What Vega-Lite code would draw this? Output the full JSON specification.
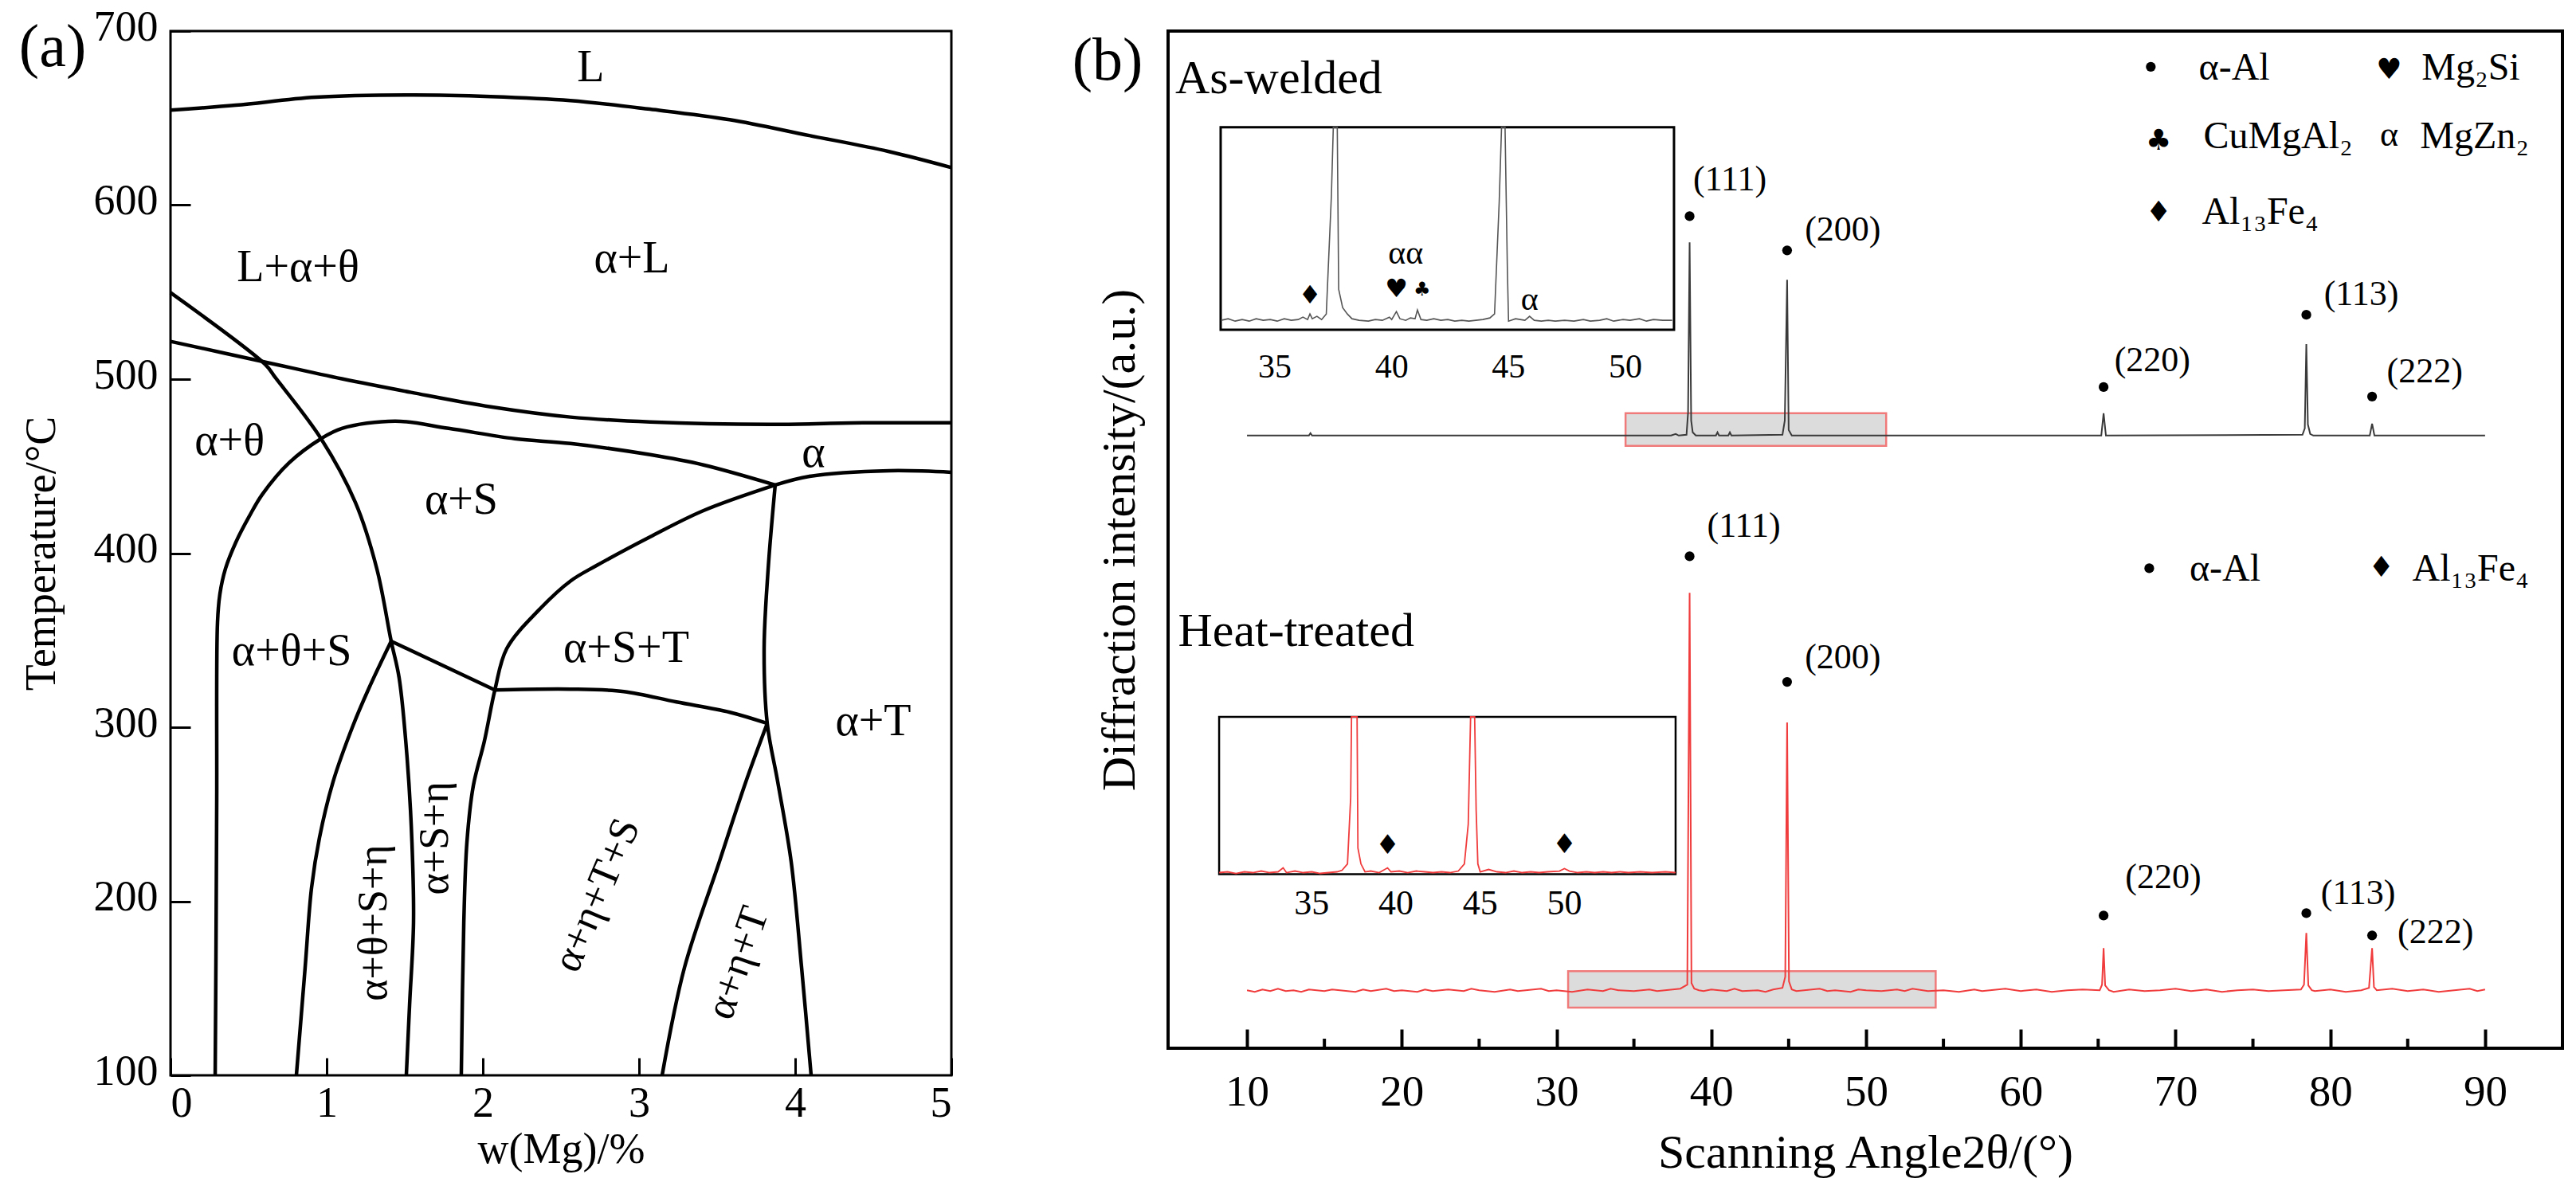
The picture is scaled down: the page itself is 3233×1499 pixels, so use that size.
{
"$schema":"https://vega.github.io/schema/vega-lite/v6.json",
"background":"white",
"padding":{"left":22,"top":5,"right":5,"bottom":5},
"spacing":138,
"config":{"font":"Liberation Serif, Times New Roman, serif","view":{"stroke":null},
 "axis":{"labelFont":"Liberation Serif, Times New Roman, serif","titleFont":"Liberation Serif, Times New Roman, serif","labelColor":"black","titleColor":"black","tickColor":"black","grid":false,"titleFontWeight":"normal"},
 "text":{"font":"Liberation Serif, Times New Roman, serif","color":"black"}},
"datasets":{
"curves":[
{"c":"A","x":0,"t":654.6},{"c":"A","x":0.418,"t":657.4},{"c":"A","x":0.929,"t":662},{"c":"A","x":1.54,"t":663.3},{"c":"A","x":2.05,"t":662.4},{"c":"A","x":2.56,"t":660.1},{"c":"A","x":3.07,"t":655.1},{"c":"A","x":3.58,"t":649.1},{"c":"A","x":4.09,"t":640},{"c":"A","x":4.6,"t":630.8},{"c":"A","x":5,"t":621.6},
{"c":"B","x":0,"t":521.7},{"c":"B","x":0.587,"t":510.2},{"c":"B","x":1.097,"t":500.2},{"c":"B","x":1.541,"t":492.4},{"c":"B","x":2.051,"t":484.1},{"c":"B","x":2.561,"t":478.2},{"c":"B","x":3.071,"t":475.4},{"c":"B","x":3.837,"t":474},{"c":"B","x":4.434,"t":474.9},{"c":"B","x":5,"t":474.9},
{"c":"C","x":0,"t":549.7},{"c":"C","x":0.607,"t":508.4},{"c":"C","x":0.673,"t":500.7},{"c":"C","x":0.964,"t":465.8},{"c":"C","x":1.184,"t":429.1},{"c":"C","x":1.321,"t":391.1},{"c":"C","x":1.413,"t":349.4},{"c":"C","x":1.464,"t":328.3},{"c":"C","x":1.515,"t":282.4},{"c":"C","x":1.546,"t":233.8},{"c":"C","x":1.556,"t":187.6},{"c":"C","x":1.531,"t":140.8},{"c":"C","x":1.51,"t":100},
{"c":"D","x":0.286,"t":100},{"c":"D","x":0.291,"t":167.8},{"c":"D","x":0.296,"t":259.5},{"c":"D","x":0.301,"t":360.4},{"c":"D","x":0.316,"t":376.4},{"c":"D","x":0.352,"t":391.1},{"c":"D","x":0.418,"t":406.2},{"c":"D","x":0.505,"t":421.3},{"c":"D","x":0.587,"t":433.7},{"c":"D","x":0.76,"t":452},{"c":"D","x":0.964,"t":465.8},{"c":"D","x":1.097,"t":471.7},{"c":"D","x":1.439,"t":475.9},{"c":"D","x":1.781,"t":471.7},{"c":"D","x":2.204,"t":465.8},{"c":"D","x":2.561,"t":463},{"c":"D","x":3.071,"t":456.6},{"c":"D","x":3.413,"t":450.7},{"c":"D","x":3.872,"t":439.2},
{"c":"E","x":3.872,"t":439.2},{"c":"E","x":4.092,"t":444.2},{"c":"E","x":4.602,"t":447.4},{"c":"E","x":5,"t":446.5},
{"c":"F","x":3.872,"t":439.2},{"c":"F","x":3.827,"t":391.1},{"c":"F","x":3.801,"t":345.2},{"c":"F","x":3.821,"t":302.2},{"c":"F","x":3.888,"t":268.7},{"c":"F","x":3.974,"t":222.9},{"c":"F","x":4.041,"t":161.9},{"c":"F","x":4.102,"t":100},
{"c":"G","x":3.872,"t":439.2},{"c":"G","x":3.413,"t":424.5},{"c":"G","x":3.071,"t":409.4},{"c":"G","x":2.73,"t":393},{"c":"G","x":2.561,"t":384},{"c":"G","x":2.357,"t":367.2},{"c":"G","x":2.153,"t":345.2},{"c":"G","x":2.077,"t":321.4},{"c":"G","x":2.01,"t":292.1},{"c":"G","x":1.939,"t":266.4},{"c":"G","x":1.898,"t":233.9},{"c":"G","x":1.878,"t":187.6},{"c":"G","x":1.862,"t":100},
{"c":"H","x":1.413,"t":349.4},{"c":"H","x":2.077,"t":321.4},
{"c":"I","x":2.077,"t":321.4},{"c":"I","x":2.561,"t":321.9},{"c":"I","x":2.903,"t":320.5},{"c":"I","x":3.24,"t":314.5},{"c":"I","x":3.582,"t":308.6},{"c":"I","x":3.821,"t":302.2},
{"c":"J","x":1.413,"t":349.4},{"c":"J","x":1.27,"t":322.3},{"c":"J","x":1.168,"t":300.8},{"c":"J","x":1.041,"t":268.7},{"c":"J","x":0.954,"t":236.6},{"c":"J","x":0.903,"t":207.7},{"c":"J","x":0.862,"t":161.9},{"c":"J","x":0.806,"t":100},
{"c":"K","x":3.821,"t":302.2},{"c":"K","x":3.684,"t":268.7},{"c":"K","x":3.515,"t":222.9},{"c":"K","x":3.291,"t":161.9},{"c":"K","x":3.148,"t":100}
],
"ph_h":[{"txt":"L","x":2.69,"t":678.9},{"txt":"α+L","x":2.954,"t":568.9},{"txt":"L+α+θ","x":0.816,"t":564.3},{"txt":"α+θ","x":0.378,"t":464.4},{"txt":"α+S","x":1.862,"t":430.5},{"txt":"α","x":4.117,"t":457.5},{"txt":"α+θ+S","x":0.776,"t":343.4},{"txt":"α+S+T","x":2.918,"t":345.2},{"txt":"α+T","x":4.5,"t":303.1}],
"ph_v":[{"txt":"α+θ+S+η","x":1.301,"t":187.6},{"txt":"α+S+η","x":1.694,"t":236.2}],
"ph_s1":[{"txt":"α+η+T+S","x":2.73,"t":203.6}],
"ph_s2":[{"txt":"α+η+T","x":3.633,"t":164.6}],
"tagA":[{"txt":"(a)","x":-0.755,"t":690.4}],
"tagB":[{"txt":"(b)","a":0.99,"v":1242}],
"samples":[{"txt":"As-welded","a":5.36,"v":1202},{"txt":"Heat-treated","a":5.54,"v":506}],
"hl":[{"x0":34.46,"x1":51.3,"y0":758,"y1":799},{"x0":30.75,"x1":54.5,"y0":51,"y1":97}],
"xrd":[
{"s":"A","a":10,"v":771},{"s":"A","a":14.0,"v":771},{"s":"A","a":14.1,"v":774},{"s":"A","a":14.2,"v":771},{"s":"A","a":37.4,"v":771},{"s":"A","a":37.7,"v":773},{"s":"A","a":37.9,"v":771},{"s":"A","a":38.4,"v":772},{"s":"A","a":38.5,"v":800},{"s":"A","a":38.6,"v":1014},{"s":"A","a":38.7,"v":790},{"s":"A","a":38.8,"v":775},{"s":"A","a":39.0,"v":771},{"s":"A","a":40.3,"v":771},{"s":"A","a":40.4,"v":775},{"s":"A","a":40.5,"v":771},{"s":"A","a":41.1,"v":771},{"s":"A","a":41.2,"v":775},{"s":"A","a":41.3,"v":771},{"s":"A","a":44.6,"v":772},{"s":"A","a":44.75,"v":790},{"s":"A","a":44.9,"v":967},{"s":"A","a":45.0,"v":778},{"s":"A","a":45.2,"v":771},{"s":"A","a":65.2,"v":771},{"s":"A","a":65.35,"v":799},{"s":"A","a":65.5,"v":771},{"s":"A","a":78.2,"v":772},{"s":"A","a":78.35,"v":780},{"s":"A","a":78.45,"v":886},{"s":"A","a":78.55,"v":785},{"s":"A","a":78.7,"v":773},{"s":"A","a":78.9,"v":771},{"s":"A","a":82.55,"v":771},{"s":"A","a":82.7,"v":786},{"s":"A","a":82.85,"v":771},{"s":"A","a":90,"v":771},
{"s":"B","a":10,"v":73},{"s":"B","a":10.5,"v":71},{"s":"B","a":11,"v":74},{"s":"B","a":11.5,"v":72},{"s":"B","a":12,"v":75},{"s":"B","a":12.5,"v":72},{"s":"B","a":13,"v":73},{"s":"B","a":13.5,"v":71},{"s":"B","a":14,"v":74},{"s":"B","a":15,"v":72},{"s":"B","a":15.5,"v":74},{"s":"B","a":16,"v":73},{"s":"B","a":17,"v":71},{"s":"B","a":17.5,"v":74},{"s":"B","a":18,"v":72},{"s":"B","a":19,"v":75},{"s":"B","a":19.5,"v":72},{"s":"B","a":20,"v":73},{"s":"B","a":21,"v":71},{"s":"B","a":21.5,"v":74},{"s":"B","a":22,"v":72},{"s":"B","a":23,"v":74},{"s":"B","a":24,"v":72},{"s":"B","a":24.5,"v":75},{"s":"B","a":25,"v":73},{"s":"B","a":26,"v":71},{"s":"B","a":27,"v":74},{"s":"B","a":27.5,"v":72},{"s":"B","a":28,"v":73},{"s":"B","a":29,"v":75},{"s":"B","a":29.5,"v":72},{"s":"B","a":30,"v":73},{"s":"B","a":31,"v":71},{"s":"B","a":32,"v":74},{"s":"B","a":33,"v":72},{"s":"B","a":33.5,"v":75},{"s":"B","a":34,"v":73},{"s":"B","a":35,"v":72},{"s":"B","a":36,"v":74},{"s":"B","a":36.5,"v":72},{"s":"B","a":37,"v":73},{"s":"B","a":37.5,"v":74},{"s":"B","a":38.0,"v":75},{"s":"B","a":38.45,"v":80},{"s":"B","a":38.6,"v":573},{"s":"B","a":38.72,"v":82},{"s":"B","a":38.9,"v":75},{"s":"B","a":39.2,"v":73},{"s":"B","a":39.5,"v":72},{"s":"B","a":40,"v":74},{"s":"B","a":41,"v":72},{"s":"B","a":41.5,"v":75},{"s":"B","a":42,"v":72},{"s":"B","a":43,"v":73},{"s":"B","a":43.5,"v":71},{"s":"B","a":44,"v":74},{"s":"B","a":44.6,"v":76},{"s":"B","a":44.78,"v":90},{"s":"B","a":44.9,"v":410},{"s":"B","a":45.02,"v":84},{"s":"B","a":45.2,"v":74},{"s":"B","a":45.5,"v":72},{"s":"B","a":46,"v":73},{"s":"B","a":47,"v":75},{"s":"B","a":47.5,"v":72},{"s":"B","a":48,"v":73},{"s":"B","a":49,"v":71},{"s":"B","a":49.5,"v":74},{"s":"B","a":50,"v":73},{"s":"B","a":51,"v":72},{"s":"B","a":52,"v":74},{"s":"B","a":52.5,"v":72},{"s":"B","a":53,"v":75},{"s":"B","a":54,"v":72},{"s":"B","a":55,"v":73},{"s":"B","a":56,"v":71},{"s":"B","a":57,"v":74},{"s":"B","a":57.5,"v":72},{"s":"B","a":58,"v":73},{"s":"B","a":59,"v":75},{"s":"B","a":60,"v":72},{"s":"B","a":61,"v":74},{"s":"B","a":62,"v":71},{"s":"B","a":63,"v":73},{"s":"B","a":64,"v":74},{"s":"B","a":65.1,"v":73},{"s":"B","a":65.25,"v":80},{"s":"B","a":65.35,"v":126},{"s":"B","a":65.45,"v":79},{"s":"B","a":65.7,"v":73},{"s":"B","a":66,"v":71},{"s":"B","a":67,"v":74},{"s":"B","a":68,"v":72},{"s":"B","a":69,"v":73},{"s":"B","a":70,"v":75},{"s":"B","a":71,"v":72},{"s":"B","a":72,"v":74},{"s":"B","a":73,"v":71},{"s":"B","a":74,"v":73},{"s":"B","a":75,"v":74},{"s":"B","a":76,"v":72},{"s":"B","a":77,"v":73},{"s":"B","a":78.1,"v":74},{"s":"B","a":78.3,"v":80},{"s":"B","a":78.45,"v":145},{"s":"B","a":78.58,"v":79},{"s":"B","a":78.8,"v":73},{"s":"B","a":79,"v":72},{"s":"B","a":80,"v":74},{"s":"B","a":81,"v":71},{"s":"B","a":82,"v":73},{"s":"B","a":82.5,"v":76},{"s":"B","a":82.7,"v":126},{"s":"B","a":82.82,"v":77},{"s":"B","a":83,"v":73},{"s":"B","a":84,"v":75},{"s":"B","a":85,"v":72},{"s":"B","a":86,"v":74},{"s":"B","a":87,"v":71},{"s":"B","a":88,"v":73},{"s":"B","a":89,"v":75},{"s":"B","a":89.5,"v":72},{"s":"B","a":90,"v":74}
],
"dots":[{"a":38.6,"v":1047},{"a":44.9,"v":1004},{"a":65.35,"v":832},{"a":78.45,"v":923},{"a":82.7,"v":820},{"a":68.4,"v":1235},{"a":38.6,"v":619},{"a":44.9,"v":461},{"a":65.35,"v":167},{"a":78.45,"v":170},{"a":82.7,"v":142},{"a":68.3,"v":604}],
"plab":[{"txt":"(111)","a":41.2,"v":1093},{"txt":"(200)","a":48.5,"v":1029},{"txt":"(220)","a":68.5,"v":865},{"txt":"(113)","a":82.0,"v":948},{"txt":"(222)","a":86.1,"v":851},{"txt":"(111)","a":42.1,"v":657},{"txt":"(200)","a":48.5,"v":491},{"txt":"(220)","a":69.2,"v":215},{"txt":"(113)","a":81.8,"v":194},{"txt":"(222)","a":86.8,"v":145},{"txt":"α","a":83.8,"v":1149}],
"legtxt":[{"txt":"α-Al","a":71.5,"v":1233},{"txt":"Mg₂Si","a":85.9,"v":1233},{"txt":"CuMgAl₂","a":71.8,"v":1147},{"txt":"MgZn₂","a":85.8,"v":1147},{"txt":"Al₁₃Fe₄","a":71.7,"v":1051},{"txt":"α-Al","a":70.9,"v":602},{"txt":"Al₁₃Fe₄","a":85.3,"v":602}],
"legsym":[{"sym":"♥","a":83.8,"v":1231},{"sym":"♣","a":68.9,"v":1142},{"sym":"♦","a":68.9,"v":1051},{"sym":"♦","a":83.3,"v":604}],
"minor":[{"t":15},{"t":25},{"t":35},{"t":45},{"t":55},{"t":65},{"t":75},{"t":85}],
"insAbox":[{"x0":32.68,"x1":52.08,"y0":0,"y1":255}],
"insA":[{"a":32.7,"u":12},{"a":33.0,"u":14},{"a":33.3,"u":11},{"a":33.6,"u":13},{"a":33.9,"u":11},{"a":34.2,"u":14},{"a":34.5,"u":12},{"a":34.8,"u":13},{"a":35.1,"u":11},{"a":35.4,"u":14},{"a":35.7,"u":12},{"a":36.0,"u":13},{"a":36.2,"u":16},{"a":36.4,"u":13},{"a":36.5,"u":20},{"a":36.6,"u":14},{"a":36.8,"u":17},{"a":37.0,"u":13},{"a":37.2,"u":20},{"a":37.42,"u":170},{"a":37.5,"u":255},{"a":37.67,"u":255},{"a":37.73,"u":51},{"a":37.9,"u":28},{"a":38.1,"u":20},{"a":38.3,"u":14},{"a":38.6,"u":12},{"a":39.0,"u":11},{"a":39.3,"u":13},{"a":39.6,"u":12},{"a":39.9,"u":16},{"a":40.0,"u":13},{"a":40.2,"u":23},{"a":40.35,"u":14},{"a":40.6,"u":12},{"a":40.8,"u":15},{"a":41.0,"u":14},{"a":41.1,"u":25},{"a":41.25,"u":13},{"a":41.5,"u":12},{"a":41.8,"u":14},{"a":42.1,"u":12},{"a":42.4,"u":13},{"a":42.7,"u":11},{"a":43.0,"u":12},{"a":43.3,"u":11},{"a":43.6,"u":12},{"a":43.9,"u":13},{"a":44.2,"u":15},{"a":44.4,"u":20},{"a":44.6,"u":161},{"a":44.7,"u":255},{"a":44.85,"u":255},{"a":44.95,"u":75},{"a":45.0,"u":11},{"a":45.3,"u":14},{"a":45.5,"u":13},{"a":45.7,"u":12},{"a":45.9,"u":17},{"a":46.1,"u":12},{"a":46.4,"u":11},{"a":46.7,"u":12},{"a":47.0,"u":11},{"a":47.4,"u":12},{"a":47.8,"u":11},{"a":48.2,"u":13},{"a":48.5,"u":11},{"a":48.9,"u":12},{"a":49.2,"u":14},{"a":49.5,"u":11},{"a":49.9,"u":13},{"a":50.2,"u":12},{"a":50.6,"u":14},{"a":50.9,"u":11},{"a":51.2,"u":13},{"a":51.6,"u":12},{"a":52.0,"u":12}],
"insAsym":[{"sym":"♦","a":36.5,"u":43},{"sym":"♥","a":40.2,"u":51}],
"insAclub":[{"sym":"♣","a":41.3,"u":50}],
"insAlab":[{"txt":"αα","a":40.6,"u":96},{"txt":"α","a":45.9,"u":38},{"txt":"35","a":35,"u":-47},{"txt":"40","a":40,"u":-47},{"txt":"45","a":45,"u":-47},{"txt":"50","a":50,"u":-47}],
"insBbox":[{"x0":29.5,"x1":56.6,"y0":0,"y1":198}],
"insB":[{"a":29.5,"u":2},{"a":30,"u":3},{"a":30.5,"u":1},{"a":31,"u":3},{"a":31.5,"u":2},{"a":32,"u":4},{"a":32.5,"u":2},{"a":33,"u":3},{"a":33.3,"u":8},{"a":33.5,"u":2},{"a":34,"u":4},{"a":34.5,"u":2},{"a":35,"u":3},{"a":35.5,"u":1},{"a":36,"u":2},{"a":36.5,"u":3},{"a":36.8,"u":5},{"a":37.12,"u":13},{"a":37.31,"u":96},{"a":37.36,"u":198},{"a":37.69,"u":198},{"a":37.74,"u":33},{"a":37.92,"u":13},{"a":38.16,"u":3},{"a":38.5,"u":4},{"a":39.0,"u":2},{"a":39.5,"u":8},{"a":39.7,"u":3},{"a":40.2,"u":4},{"a":40.7,"u":2},{"a":41.2,"u":4},{"a":41.7,"u":3},{"a":42.2,"u":2},{"a":42.7,"u":3},{"a":43.2,"u":2},{"a":43.7,"u":4},{"a":44.06,"u":13},{"a":44.29,"u":63},{"a":44.43,"u":198},{"a":44.67,"u":198},{"a":44.76,"u":80},{"a":44.86,"u":13},{"a":45.0,"u":3},{"a":45.5,"u":6},{"a":46.0,"u":3},{"a":46.5,"u":2},{"a":47,"u":4},{"a":47.5,"u":2},{"a":48,"u":3},{"a":48.5,"u":2},{"a":49,"u":3},{"a":49.7,"u":4},{"a":50.0,"u":7},{"a":50.3,"u":4},{"a":50.8,"u":2},{"a":51.3,"u":3},{"a":51.8,"u":2},{"a":52.3,"u":3},{"a":52.8,"u":2},{"a":53.3,"u":3},{"a":53.8,"u":2},{"a":54.5,"u":3},{"a":55.2,"u":2},{"a":56,"u":3},{"a":56.6,"u":2}],
"insBsym":[{"sym":"♦","a":39.5,"u":36},{"sym":"♦","a":50,"u":37}],
"insBlab":[{"txt":"35","a":35,"u":-38},{"txt":"40","a":40,"u":-38},{"txt":"45","a":45,"u":-38},{"txt":"50","a":50,"u":-38}]
},
"hconcat":[
{
"width":980,"height":1311,
"view":{"stroke":"black","strokeWidth":3},
"layer":[
{"data":{"name":"curves"},"mark":{"type":"line","color":"black","strokeWidth":4.5,"interpolate":"catmull-rom"},
 "encoding":{
  "x":{"field":"x","type":"quantitative","scale":{"domain":[0,5],"nice":false,"zero":false},
   "axis":{"values":[0,1,2,3,4,5],"format":"d","tickSize":-22,"tickWidth":3,"domain":false,"labelFontSize":54,"labelPadding":30,"labelOverlap":false,"title":"w(Mg)/%","titleFontSize":54,"titlePadding":4}},
  "y":{"field":"t","type":"quantitative","scale":{"domain":[100,700],"nice":false,"zero":false},
   "axis":{"values":[100,200,300,400,500,600,700],"format":"d","tickSize":-25,"tickWidth":3,"domain":false,"labelFontSize":54,"labelPadding":41,"labelFlush":false,"labelOffset":-5,"labelOverlap":false,"title":"Temperature/°C","titleFontSize":54,"titlePadding":38}},
  "detail":{"field":"c"},
  "order":{"value":null}}},
{"data":{"name":"ph_h"},"mark":{"type":"text","fontSize":56},"encoding":{"x":{"field":"x","type":"quantitative"},"y":{"field":"t","type":"quantitative"},"text":{"field":"txt"}}},
{"data":{"name":"ph_v"},"mark":{"type":"text","fontSize":52,"angle":270},"encoding":{"x":{"field":"x","type":"quantitative"},"y":{"field":"t","type":"quantitative"},"text":{"field":"txt"}}},
{"data":{"name":"ph_s1"},"mark":{"type":"text","fontSize":52,"angle":293},"encoding":{"x":{"field":"x","type":"quantitative"},"y":{"field":"t","type":"quantitative"},"text":{"field":"txt"}}},
{"data":{"name":"ph_s2"},"mark":{"type":"text","fontSize":52,"angle":289},"encoding":{"x":{"field":"x","type":"quantitative"},"y":{"field":"t","type":"quantitative"},"text":{"field":"txt"}}},
{"data":{"name":"tagA"},"mark":{"type":"text","fontSize":76},"encoding":{"x":{"field":"x","type":"quantitative"},"y":{"field":"t","type":"quantitative"},"text":{"field":"txt"}}}
]
},
{
"width":1750,"height":1277,
"view":{"stroke":"black","strokeWidth":4},
"resolve":{"scale":{"x":"independent","y":"independent"}},
"layer":[
{"layer":[
 {"data":{"name":"hl"},"mark":{"type":"rect","fill":"#dcdcdc","stroke":"#f07a7a","strokeWidth":2.5},
  "encoding":{
   "x":{"field":"x0","type":"quantitative","scale":{"domain":[4.9,95],"nice":false,"zero":false},
    "axis":{"values":[10,20,30,40,50,60,70,80,90],"tickSize":-24,"tickWidth":4,"domain":false,"labelFontSize":55,"labelPadding":52,"labelFlush":false,"labelOverlap":false,"title":"Scanning Angle2θ/(°)","titleFontSize":60,"titlePadding":20}},
   "x2":{"field":"x1"},
   "y":{"field":"y0","type":"quantitative","scale":{"domain":[0,1280],"nice":false,"zero":false},
    "axis":{"title":"Diffraction intensity/(a.u.)","labels":false,"ticks":false,"domain":false,"titleFontSize":60,"titlePadding":30}},
   "y2":{"field":"y1"}}},
 {"data":{"name":"minor"},"mark":{"type":"rule","color":"black","strokeWidth":4},
  "encoding":{"x":{"field":"t","type":"quantitative"},"y":{"datum":0},"y2":{"datum":12}}},
 {"data":{"name":"xrd"},"mark":{"type":"line","strokeWidth":2},
  "encoding":{"x":{"field":"a","type":"quantitative"},"y":{"field":"v","type":"quantitative"},
   "color":{"field":"s","type":"nominal","scale":{"domain":["A","B"],"range":["#3a3a3a","#f03c3c"]},"legend":null}}},
 {"data":{"name":"dots"},"mark":{"type":"point","shape":"circle","filled":true,"color":"black","opacity":1,"size":150},
  "encoding":{"x":{"field":"a","type":"quantitative"},"y":{"field":"v","type":"quantitative"}}},
 {"data":{"name":"plab"},"mark":{"type":"text","fontSize":44},
  "encoding":{"x":{"field":"a","type":"quantitative"},"y":{"field":"v","type":"quantitative"},"text":{"field":"txt"}}},
 {"data":{"name":"legtxt"},"mark":{"type":"text","fontSize":48,"align":"left"},
  "encoding":{"x":{"field":"a","type":"quantitative"},"y":{"field":"v","type":"quantitative"},"text":{"field":"txt"}}},
 {"data":{"name":"legsym"},"mark":{"type":"text","fontSize":36,"font":"DejaVu Sans"},
  "encoding":{"x":{"field":"a","type":"quantitative"},"y":{"field":"v","type":"quantitative"},"text":{"field":"sym"}}},
 {"data":{"name":"samples"},"mark":{"type":"text","fontSize":60,"align":"left","baseline":"alphabetic"},
  "encoding":{"x":{"field":"a","type":"quantitative"},"y":{"field":"v","type":"quantitative"},"text":{"field":"txt"}}},
 {"data":{"name":"tagB"},"mark":{"type":"text","fontSize":76},
  "encoding":{"x":{"field":"a","type":"quantitative"},"y":{"field":"v","type":"quantitative"},"text":{"field":"txt"}}}
]},
{"layer":[
 {"data":{"name":"insAbox"},"mark":{"type":"rect","fillOpacity":0,"stroke":"black","strokeWidth":3},
  "encoding":{"x":{"field":"x0","type":"quantitative","scale":{"domain":[30.43,90.1],"nice":false,"zero":false},"axis":null},"x2":{"field":"x1"},
   "y":{"field":"y0","type":"quantitative","scale":{"domain":[-904,376],"nice":false,"zero":false},"axis":null},"y2":{"field":"y1"}}},
 {"data":{"name":"insA"},"mark":{"type":"line","color":"#555555","strokeWidth":1.6},
  "encoding":{"x":{"field":"a","type":"quantitative","axis":null},"y":{"field":"u","type":"quantitative","axis":null}}},
 {"data":{"name":"insAsym"},"mark":{"type":"text","fontSize":32,"font":"DejaVu Sans"},
  "encoding":{"x":{"field":"a","type":"quantitative","axis":null},"y":{"field":"u","type":"quantitative","axis":null},"text":{"field":"sym"}}},
 {"data":{"name":"insAclub"},"mark":{"type":"text","fontSize":24,"font":"DejaVu Sans"},
  "encoding":{"x":{"field":"a","type":"quantitative","axis":null},"y":{"field":"u","type":"quantitative","axis":null},"text":{"field":"sym"}}},
 {"data":{"name":"insAlab"},"mark":{"type":"text","fontSize":42},
  "encoding":{"x":{"field":"a","type":"quantitative","axis":null},"y":{"field":"u","type":"quantitative","axis":null},"text":{"field":"txt"}}}
]},
{"layer":[
 {"data":{"name":"insBbox"},"mark":{"type":"rect","fillOpacity":0,"stroke":"black","strokeWidth":2.5},
  "encoding":{"x":{"field":"x0","type":"quantitative","scale":{"domain":[26.47,109.25],"nice":false,"zero":false},"axis":null},"x2":{"field":"x1"},
   "y":{"field":"y0","type":"quantitative","scale":{"domain":[-219,1061],"nice":false,"zero":false},"axis":null},"y2":{"field":"y1"}}},
 {"data":{"name":"insB"},"mark":{"type":"line","color":"#f03c3c","strokeWidth":1.8},
  "encoding":{"x":{"field":"a","type":"quantitative","axis":null},"y":{"field":"u","type":"quantitative","axis":null}}},
 {"data":{"name":"insBsym"},"mark":{"type":"text","fontSize":34,"font":"DejaVu Sans"},
  "encoding":{"x":{"field":"a","type":"quantitative","axis":null},"y":{"field":"u","type":"quantitative","axis":null},"text":{"field":"sym"}}},
 {"data":{"name":"insBlab"},"mark":{"type":"text","fontSize":44},
  "encoding":{"x":{"field":"a","type":"quantitative","axis":null},"y":{"field":"u","type":"quantitative","axis":null},"text":{"field":"txt"}}}
]}
]
}
]
}
